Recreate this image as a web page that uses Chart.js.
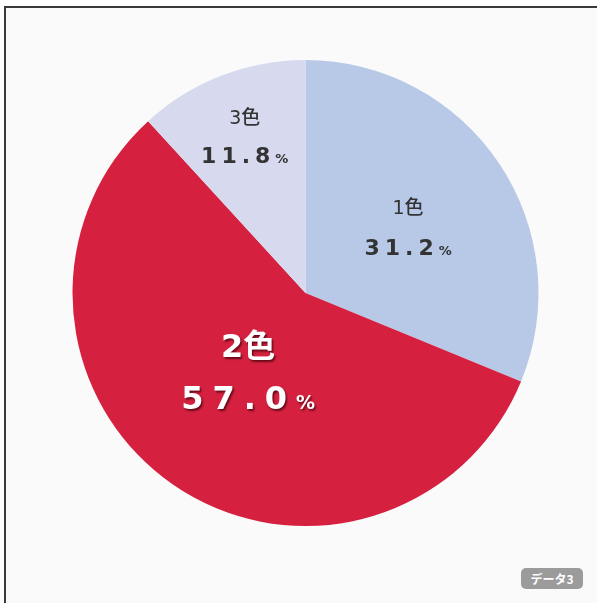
<!DOCTYPE html>
<html>
<head>
<meta charset="utf-8">
<script src="https://cdn.jsdelivr.net/npm/chart.js@4.4.1/dist/chart.umd.min.js"></script>
<style>
  html, body { margin: 0; padding: 0; background: #ffffff; }
  .frame {
    position: absolute; left: 4px; top: 6px; width: 600px; height: 600px;
    border-left: 2px solid #3a3a3a; border-top: 2px solid #3a3a3a;
    background: #fafafa;
  }
  #wrap { position: absolute; left: 0; top: 0; width: 597px; height: 603px; }
  .badge {
    position: absolute; left: 521px; top: 568px; width: 62px; height: 21px;
    background: #9b9b9b; border-radius: 5px; color: #fff;
    font: bold 12px "Noto Sans CJK JP", sans-serif; line-height: 21px; text-align: center;
  }
</style>
</head>
<body>
<div class="frame"></div>
<div id="wrap"><canvas id="pieChart" width="597" height="603"></canvas></div>
<div class="badge">データ3</div>
<script>
// データ
const labels = ['1色', '2色', '3色'];
const values = [31.2, 57.0, 11.8];
const colors = ['#b8c9e8', '#d5213f', '#d7daee'];

// ラベルの位置(半径に対する割合)と見た目
const labelRadius = [0.53, 0.43, 0.72];
const labelStyle = [
    { color: '#333', nameSize: 19, numSize: 22, gap: 38, spacing: 5, dy: 4, shadow: false },
    { color: '#fff', nameSize: 32, numSize: 32, gap: 48, spacing: 9, dy: -2, shadow: true },
    { color: '#333', nameSize: 19, numSize: 22, gap: 36, spacing: 5, dy: 0, shadow: false }
];
const numFont = '"DejaVu Sans", sans-serif';
const nameFont = '"DejaVu Sans", "Noto Sans CJK JP", sans-serif';

// 扇形の中にラベルを描くプラグイン
const sliceLabels = {
    id: 'sliceLabels',
    afterDatasetsDraw(chart) {
        const ctx = chart.ctx;
        const meta = chart.getDatasetMeta(0);
        meta.data.forEach((arc, i) => {
            const mid = (arc.startAngle + arc.endAngle) / 2;
            const r = arc.outerRadius * labelRadius[i];
            const st = labelStyle[i];
            const x = arc.x + Math.cos(mid) * r;
            const y = arc.y + Math.sin(mid) * r + st.dy;

            ctx.save();
            ctx.fillStyle = st.color;
            ctx.textAlign = 'center';
            ctx.textBaseline = 'middle';
            if (st.shadow) {
                ctx.shadowColor = 'rgba(60,0,10,0.7)';
                ctx.shadowOffsetX = 1.5;
                ctx.shadowOffsetY = 2;
                ctx.shadowBlur = 2;
            }
            // 名前
            ctx.font = (st.shadow ? 'bold ' : '500 ') + st.nameSize + 'px ' + nameFont;
            ctx.fillText(labels[i], x, y - st.gap / 2);

            // 数値 + %
            const num = values[i].toFixed(1);
            const numW = st.shadow ? 'bold ' : '600 ';
            ctx.font = numW + st.numSize + 'px ' + numFont;
            ctx.letterSpacing = st.spacing + 'px';
            const w1 = ctx.measureText(num).width;
            const pctSize = Math.round(st.numSize * 0.6);
            ctx.font = 'bold ' + pctSize + 'px ' + numFont;
            ctx.letterSpacing = '0px';
            const w2 = ctx.measureText('%').width;
            const left = x - (w1 + w2) / 2;
            ctx.textAlign = 'left';
            ctx.textBaseline = 'alphabetic';
            const base = y + st.gap / 2 + st.numSize * 0.36;
            ctx.font = numW + st.numSize + 'px ' + numFont;
            ctx.letterSpacing = st.spacing + 'px';
            ctx.fillText(num, left, base);
            ctx.font = 'bold ' + pctSize + 'px ' + numFont;
            ctx.letterSpacing = '0px';
            ctx.fillText('%', left + w1, base);
            ctx.restore();
        });
    }
};

new Chart(document.getElementById('pieChart'), {
    type: 'pie',
    data: {
        labels: labels,
        datasets: [{
            data: values,
            backgroundColor: colors,
            borderWidth: 0
        }]
    },
    options: {
        responsive: false,
        animation: false,
        layout: { padding: { left: 72, right: 58, top: 60, bottom: 77 } },
        plugins: {
            legend: { display: false },
            tooltip: { enabled: false }
        }
    },
    plugins: [sliceLabels]
});
</script>
</body>
</html>
